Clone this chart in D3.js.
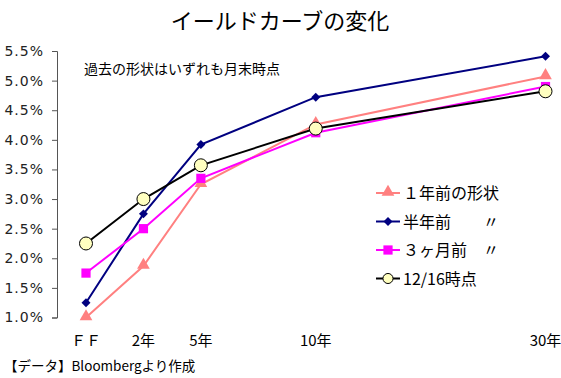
<!DOCTYPE html>
<html>
<head>
<meta charset="utf-8">
<script src="https://cdn.jsdelivr.net/npm/d3@7"></script>
<style>
  body { margin: 0; background: #fff; }
  text { font-family: "Noto Sans CJK JP", "Noto Sans", sans-serif; }
</style>
</head>
<body>
<div id="chart"></div>
<script>
// categories and their slot on the x axis (the source spaces them unevenly)
var categories = ["ＦＦ", "2年", "5年", "10年", "30年"];
var catSlots = [0, 1, 2, 4, 8];

// yields in %
var yearAgo = [1.00, 1.87, 3.25, 4.26, 5.07];
var halfYearAgo = [1.25, 2.75, 3.92, 4.72, 5.41];
var threeMonthsAgo = [1.75, 2.50, 3.35, 4.12, 4.90];
var dec16 = [2.25, 3.00, 3.57, 4.19, 4.82];

var yTicks = [1.0, 1.5, 2.0, 2.5, 3.0, 3.5, 4.0, 4.5, 5.0, 5.5];

var seriesNames = ["１年前の形状", "半年前　　〃", "３ヶ月前　〃", "12/16時点"];

var W = 561, H = 378;
var svg = d3.select("#chart").append("svg")
    .attr("width", W)
    .attr("height", H);

var x = d3.scaleLinear().domain([0, 8]).range([86, 545.5]);
var y = d3.scaleLinear().domain([1.0, 5.5]).range([317.5, 51]);

// title
svg.append("text")
    .attr("x", 280).attr("y", 29)
    .attr("text-anchor", "middle")
    .style("font-size", "22px")
    .text("イールドカーブの変化");

// y axis
var yAxis = svg.append("g")
    .attr("transform", "translate(57,0)")
    .call(d3.axisLeft(y).tickValues(yTicks).tickSize(5).tickPadding(8)
        .tickFormat(function (d) { return d.toFixed(1) + "%"; }));
yAxis.select(".domain").attr("stroke", "#555");
yAxis.selectAll(".tick line").attr("stroke", "#555");
yAxis.selectAll("text")
    .style("font-size", "14px")
    .style("letter-spacing", "1px")
    .style("font-family", "'DejaVu Sans', sans-serif")
    .attr("fill", "#222");

// x labels
svg.selectAll(".xlab")
    .data(categories)
    .enter()
    .append("text")
    .attr("x", function (d, i) { return x(catSlots[i]); })
    .attr("y", 346)
    .attr("text-anchor", "middle")
    .style("font-size", "15px")
    .text(function (d) { return d; });

// note
svg.append("text")
    .attr("x", 84).attr("y", 74)
    .style("font-size", "14px")
    .text("過去の形状はいずれも月末時点");

// footer
svg.append("text")
    .attr("x", 4).attr("y", 371)
    .style("font-size", "13.5px")
    .text("【データ】Bloombergより作成");

var series = [
    { name: seriesNames[0], values: yearAgo, color: "#ff8080", marker: "triangle" },
    { name: seriesNames[1], values: halfYearAgo, color: "#000080", marker: "diamond" },
    { name: seriesNames[2], values: threeMonthsAgo, color: "#ff00ff", marker: "square" },
    { name: seriesNames[3], values: dec16, color: "#000000", marker: "circle" }
];

var line = d3.line()
    .x(function (d, i) { return x(catSlots[i]); })
    .y(function (d) { return y(d); });

function drawMarker(g, s, cx, cy, scale) {
    scale = scale || 1;
    if (s.marker == "triangle") {
        g.append("path")
            .attr("d", d3.symbol().type(d3.symbolTriangle).size(70 * scale)())
            .attr("transform", "translate(" + cx + "," + (cy - 1) + ")")
            .attr("fill", s.color);
    } else if (s.marker == "diamond") {
        g.append("path")
            .attr("d", d3.symbol().type(d3.symbolSquare).size(40 * scale)())
            .attr("transform", "translate(" + cx + "," + cy + ") rotate(45)")
            .attr("fill", s.color);
    } else if (s.marker == "square") {
        g.append("path")
            .attr("d", d3.symbol().type(d3.symbolSquare).size(85 * scale)())
            .attr("transform", "translate(" + cx + "," + cy + ")")
            .attr("fill", s.color);
    } else {
        g.append("circle")
            .attr("cx", cx).attr("cy", cy)
            .attr("r", 6.5 * Math.sqrt(scale))
            .attr("fill", "#ffffc0")
            .attr("stroke", "#000")
            .attr("stroke-width", 1);
    }
}

// lines
series.forEach(function (s) {
    svg.append("path")
        .datum(s.values)
        .attr("fill", "none")
        .attr("stroke", s.color)
        .attr("stroke-width", 2)
        .attr("d", line);
});

// markers
series.forEach(function (s) {
    var g = svg.append("g");
    s.values.forEach(function (v, i) {
        drawMarker(g, s, x(catSlots[i]), y(v));
    });
});

// legend
var legend = svg.append("g");
series.forEach(function (s, i) {
    var ly = 193 + i * 28.5;
    legend.append("line")
        .attr("x1", 376).attr("x2", 400)
        .attr("y1", ly).attr("y2", ly)
        .attr("stroke", s.color)
        .attr("stroke-width", 2);
    drawMarker(legend, s, 388, ly, s.marker == "circle" ? 0.6 : 1);
    legend.append("text")
        .attr("x", 403).attr("y", ly + 6)
        .style("font-size", "16px")
        .text(s.name);
});
</script>
</body>
</html>
